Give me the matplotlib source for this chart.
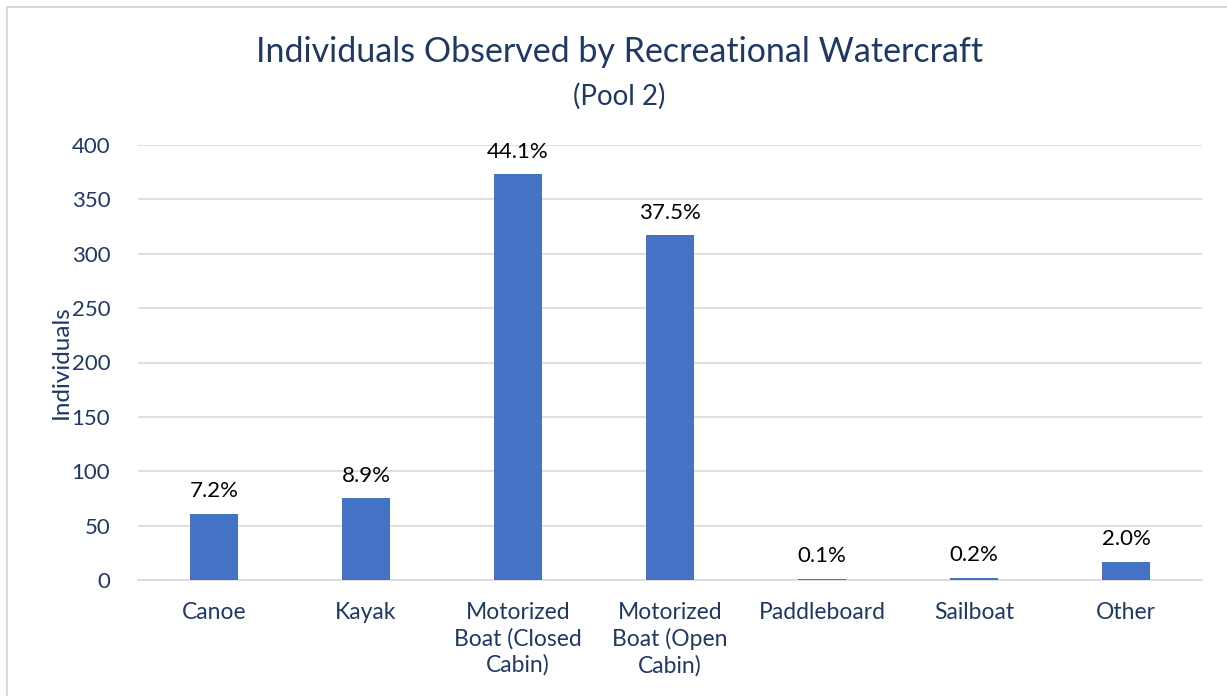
import matplotlib
matplotlib.use("Agg")
import matplotlib.pyplot as plt
from matplotlib.patches import Rectangle

categories = ["Canoe", "Kayak", "Motorized\nBoat (Closed\nCabin)", "Motorized\nBoat (Open\nCabin)",
              "Paddleboard", "Sailboat", "Other"]
values = [61, 75, 373, 317, 1, 2, 17]
pct_labels = ["7.2%", "8.9%", "44.1%", "37.5%", "0.1%", "0.2%", "2.0%"]
yticks = [0, 50, 100, 150, 200, 250, 300, 350, 400]

plt.rcParams['font.family'] = ['Lato', 'DejaVu Sans']
navy = "#1F3864"
bar_color = "#4472C4"

fig = plt.figure(figsize=(12.27, 6.96), dpi=100)
fig.patches.append(Rectangle((7/1227, -0.01), 1.02, 1 - 7/696 + 0.01, transform=fig.transFigure,
                             fill=False, edgecolor="#D9D9D9", linewidth=1.5))

ax = fig.add_axes([138/1227, 1 - 580/696, (1202-138)/1227, (580-145)/696])
x = range(len(categories))
bars = ax.bar(x, values, width=0.31, color=bar_color, zorder=3)
for xi, v, lab in zip(x, values, pct_labels):
    ax.annotate(lab, (xi, v), xytext=(0, 9), textcoords="offset points",
                ha="center", va="bottom", fontsize=16, color="#000000")

ax.set_xlim(-0.5, len(categories) - 0.5)
ax.set_ylim(0, 400)
ax.set_yticks(yticks)
ax.set_xticks(list(x))
ax.set_xticklabels(categories, fontsize=16.5, color=navy, linespacing=1.27, va="top")
ax.tick_params(axis="y", labelsize=16, labelcolor=navy, length=0, pad=20)
ax.tick_params(axis="x", length=0, pad=16)
ax.grid(axis="y", color="#D9D9D9", linewidth=1.2, zorder=0)
for s in ["top", "right", "left"]:
    ax.spines[s].set_visible(False)
ax.spines["bottom"].set_color("#D9D9D9")
ax.spines["bottom"].set_linewidth(1.2)
ax.set_ylabel("Individuals", fontsize=17.5, color=navy, labelpad=0)

fig.text(0.505, 1 - 52/696, "Individuals Observed by Recreational Watercraft", ha="center", va="center",
         fontsize=24.5, color=navy)
fig.text(0.505, 1 - 96/696, "(Pool 2)", ha="center", va="center", fontsize=20, color=navy)

fig.savefig("out.png", dpi=100)
